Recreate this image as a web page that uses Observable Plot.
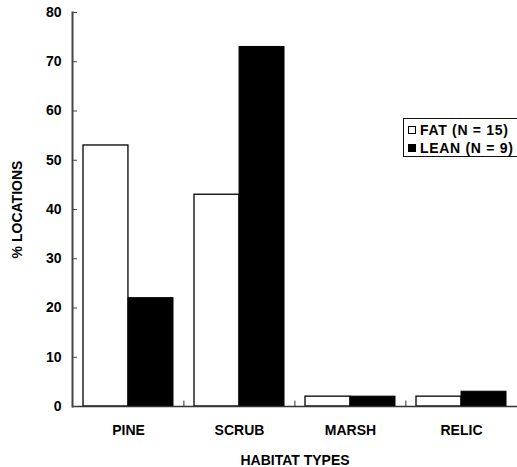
<!DOCTYPE html>
<html>
<head>
<meta charset="utf-8">
<script src="https://cdn.jsdelivr.net/npm/d3@7"></script>
<script src="https://cdn.jsdelivr.net/npm/@observablehq/plot@0.6"></script>
<style>
  html, body { margin: 0; padding: 0; background: #fff; overflow: hidden; }
  #wrap { position: relative; width: 517px; height: 467px; }
  #legend {
    position: absolute; left: 403px; top: 118px; width: 130px; height: 37px;
    border: 1.3px solid #111; background: #fff;
    font: bold 14px "Liberation Sans", Arial, sans-serif; letter-spacing: 0.7px; color: #000;
  }
  .row { position: absolute; left: 4px; display: flex; align-items: center; white-space: nowrap; }
  .sw { width: 8px; height: 8px; box-sizing: border-box; border: 1px solid #000; margin-right: 4px; }
</style>
</head>
<body>
<div id="wrap"></div>
<script>
const habitats = ["PINE", "SCRUB", "MARSH", "RELIC"];
const seriesNames = ["FAT", "LEAN"];
const seriesLabels = ["FAT (N = 15)", "LEAN (N = 9)"];
const fatValues = [53, 43, 2, 2];
const leanValues = [22, 73, 2, 3];
const yTicks = [0, 10, 20, 30, 40, 50, 60, 70, 80];
const xLabel = "HABITAT TYPES";
const yLabel = "% LOCATIONS";

const W = 517, H = 467, mL = 72, mR = 0, mT = 12, mB = 61;
const padIn = 0.19, padOut = 0.095;
const step = (W - mL - mR) / (habitats.length - padIn + 2 * padOut);
const bw = step * (1 - padIn);

const fatData = habitats.map((h, i) => ({habitat: h, value: fatValues[i]}));
const leanData = habitats.map((h, i) => ({habitat: h, value: leanValues[i]}));

const chart = Plot.plot({
  width: W, height: H,
  marginLeft: mL, marginRight: mR, marginTop: mT, marginBottom: mB,
  style: {fontFamily: "'Liberation Sans', Arial, sans-serif", fontWeight: "bold", fontSize: "14px", color: "#000", background: "#fff"},
  x: {type: "band", domain: habitats, paddingInner: padIn, paddingOuter: padOut, align: 0.5},
  y: {domain: [0, 80]},
  marks: [
    Plot.barY(fatData, {x: "habitat", y: "value", fill: "white", stroke: "#000", strokeWidth: 1.3, insetRight: bw / 2}),
    Plot.barY(leanData, {x: "habitat", y: "value", fill: "#000", stroke: "#000", strokeWidth: 1, insetLeft: bw / 2}),
    Plot.ruleX(habitats.slice(1), {x: d => d, dx: -step / 2, y1: 0, y2: 1.1, stroke: "#333", strokeWidth: 1}),
    Plot.ruleY([0], {stroke: "#333", strokeWidth: 1.5}),
    Plot.frame({anchor: "left", stroke: "#444", strokeWidth: 2}),
    Plot.axisY({ticks: yTicks, tickSize: -5, tickPadding: 16, stroke: "#444", label: yLabel, labelAnchor: "center", labelOffset: 60, labelArrow: "none"}),
    Plot.axisX({tickSize: 0, tickPadding: 19, label: xLabel, labelAnchor: "center", labelOffset: 58, labelArrow: "none"})
  ]
});

const wrap = document.getElementById("wrap");
wrap.appendChild(chart);

const legend = document.createElement("div");
legend.id = "legend";
seriesNames.forEach((s, i) => {
  const row = document.createElement("div");
  row.className = "row";
  row.style.top = (3 + i * 17.5) + "px";
  const sw = document.createElement("span");
  sw.className = "sw";
  sw.style.background = s === "FAT" ? "#fff" : "#000";
  const t = document.createElement("span");
  t.textContent = seriesLabels[i];
  row.appendChild(sw);
  row.appendChild(t);
  legend.appendChild(row);
});
wrap.appendChild(legend);
</script>
</body>
</html>
